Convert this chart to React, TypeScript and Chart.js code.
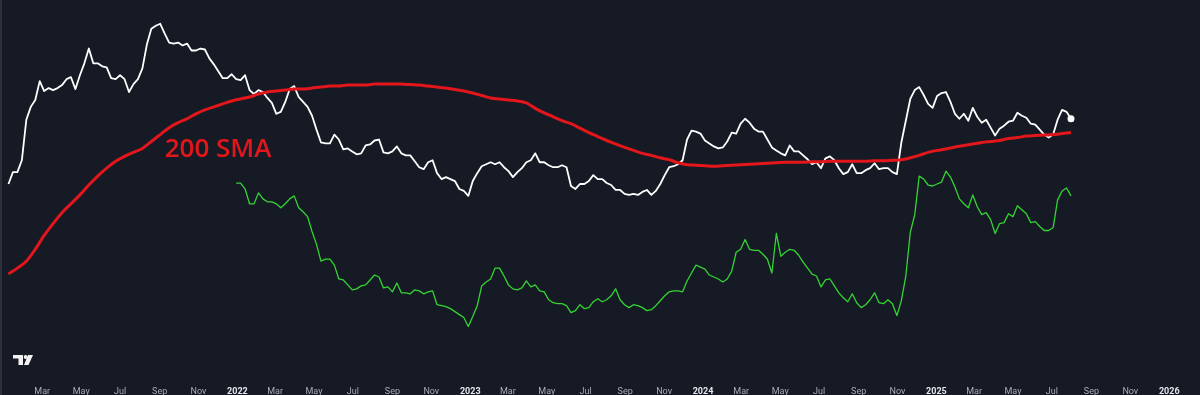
import React, { useEffect, useRef } from "react";
import { Chart, registerables } from "chart.js";

Chart.register(...registerables);

// ---- Data (values are in chart units) ----
const PRICE_START = "2021-01-07"; // weekly closes
const PRICE_STEP_DAYS = 7;
const priceValues = [
  218, 230, 230, 242, 283, 296, 303, 322, 312, 315,
  313, 315, 318, 324, 326, 314, 328, 340, 355, 340,
  340, 337, 336, 325, 324, 328, 324, 311, 319, 324,
  335, 359, 375, 378, 380, 370, 361, 360, 361, 358,
  360, 353, 353, 355, 354, 345, 339, 332, 325, 325,
  329, 324, 323, 328, 313, 309, 313, 311, 305, 300,
  289, 291, 301, 314, 317, 306, 301, 296, 287, 273,
  260, 259, 259, 268, 263, 253, 254, 251, 248, 249,
  257, 258, 262, 263, 250, 249, 251, 256, 249, 247,
  247, 241, 235, 233, 240, 242, 229, 223, 225, 223,
  221, 213, 211, 206, 221, 229, 236, 238, 240, 238,
  240, 235, 231, 225, 230, 234, 240, 242, 249, 240,
  240, 237, 235, 235, 237, 235, 216, 213, 218, 218,
  221, 227, 223, 223, 219, 217, 212, 212, 208, 207,
  208, 207, 210, 212, 207, 211, 218, 227, 235, 236,
  238, 242, 263, 272, 271, 269, 262, 259, 256, 254,
  255, 261, 270, 269, 279, 284, 280, 274, 271, 271,
  263, 255, 252, 249, 247, 257, 251, 251, 247, 243,
  238, 240, 234, 244, 246, 242, 234, 228, 230, 238,
  229, 229, 232, 234, 239, 233, 234, 234, 230, 228,
  260, 282, 304, 313, 316, 308, 299, 295, 307, 310,
  311, 301, 289, 284, 289, 282, 295, 286, 280, 283,
  275, 267, 274, 277, 281, 282, 290, 287, 285, 279,
  278, 273, 268, 265, 268, 283, 293, 291, 284,
];

const COMPARE_START = "2021-12-30"; // weekly
const COMPARE_STEP_DAYS = 7;
const compareValues = [
  219, 219, 213, 198, 198, 209, 203, 200, 200, 198,
  194, 198, 203, 206, 194, 190, 185, 170, 157, 140,
  142, 142, 136, 122, 121, 116, 111, 112, 115, 116,
  121, 126, 124, 113, 114, 109, 118, 108, 108, 107,
  111, 110, 107, 109, 110, 96, 95, 94, 92, 89,
  86, 83, 74, 84, 95, 115, 119, 122, 133, 133,
  125, 116, 112, 111, 113, 120, 114, 116, 110, 109,
  101, 98, 97, 97, 95, 88, 90, 96, 92, 93,
  99, 102, 99, 101, 105, 112, 101, 96, 93, 96,
  95, 93, 90, 91, 95, 100, 105, 109, 110, 110,
  109, 120, 128, 136, 134, 132, 126, 124, 122, 119,
  122, 130, 149, 152, 162, 152, 151, 151, 147, 142,
  128, 168, 145, 149, 152, 151, 146, 139, 133, 127,
  125, 114, 121, 122, 115, 108, 103, 99, 107, 98,
  93, 96, 101, 108, 98, 97, 101, 97, 85, 100,
  125, 169, 187, 226, 223, 217, 216, 218, 220, 231,
  225, 215, 203, 198, 194, 207, 195, 187, 189, 182,
  168, 178, 179, 188, 185, 196, 192, 188, 179, 180,
  175, 171, 171, 174, 202, 211, 214, 206,
];

const SMA_START = "2021-01-07"; // sampled every two weeks
const SMA_STEP_DAYS = 14;
const smaValues = [
  127, 133, 140, 152, 166, 178, 189, 198, 207, 217,
  226, 234, 241, 246, 250, 254, 261, 268, 275, 280,
  284, 289, 293, 296, 299, 302, 304, 306, 309, 311,
  312, 313, 314, 314, 315, 316, 317, 317, 318, 318,
  318, 319, 319, 319, 319, 318.5, 318, 317, 316, 315,
  313.5, 312, 310, 307.5, 305, 304, 303, 302, 300, 294.5,
  290, 286, 282, 279, 274.5, 270, 266, 262, 258.5, 255,
  252, 249, 247, 244.5, 242.5, 239.5, 237.5, 237, 236.5, 236,
  236.5, 237, 237.5, 238, 238.5, 239, 239.5, 240, 240, 240,
  240.5, 240.5, 241, 241, 241, 241, 241, 241.5, 241.5, 242,
  242.5, 244.5, 247, 250, 252, 253.5, 255.5, 257, 258.5, 260,
  261, 262, 264, 265, 266.5, 267, 267.5, 268, 269, 270,
];

const SMA_LABEL = "200 SMA";
const SMA_LABEL_DATE = "2021-09-09";
const SMA_LABEL_VALUE = 245;

const tickDates = [
  "2021-03-01", "2021-05-01", "2021-07-01", "2021-09-01", "2021-11-01",
  "2022-01-01", "2022-03-01", "2022-05-01", "2022-07-01", "2022-09-01", "2022-11-01",
  "2023-01-01", "2023-03-01", "2023-05-01", "2023-07-01", "2023-09-01", "2023-11-01",
  "2024-01-01", "2024-03-01", "2024-05-01", "2024-07-01", "2024-09-01", "2024-11-01",
  "2025-01-01", "2025-03-01", "2025-05-01", "2025-07-01", "2025-09-01", "2025-11-01",
  "2026-01-01",
];
const tickLabels = [
  "Mar", "May", "Jul", "Sep", "Nov",
  "2022", "Mar", "May", "Jul", "Sep", "Nov",
  "2023", "Mar", "May", "Jul", "Sep", "Nov",
  "2024", "Mar", "May", "Jul", "Sep", "Nov",
  "2025", "Mar", "May", "Jul", "Sep", "Nov",
  "2026",
];

const X_MIN_DATE = "2020-12-31";
const X_MAX_DATE = "2026-02-12";
const Y_MIN = 32;
const Y_MAX = 400;

// ---- helpers ----
const EPOCH = Date.parse("2021-01-01T00:00:00Z");
const dayOf = (s: string) => (Date.parse(s + "T00:00:00Z") - EPOCH) / 86400000;
const series = (start: string, step: number, vals: number[]) =>
  vals.map((v, i) => ({ x: dayOf(start) + step * i, y: v }));

const BG = "#161a25";

const overlayPlugin = {
  id: "overlay",
  beforeDraw(chart: any) {
    const { ctx, width, height } = chart;
    ctx.save();
    ctx.fillStyle = BG;
    ctx.fillRect(0, 0, width, height);
    ctx.restore();
  },
  afterDraw(chart: any) {
    const { ctx, scales } = chart;
    const x = scales.x;
    const y = scales.y;
    ctx.save();
    // SMA annotation
    ctx.font = "600 26px 'Open Sans'";
    ctx.fillStyle = "#e3161c";
    ctx.textBaseline = "alphabetic";
    ctx.textAlign = "left";
    ctx.fillText(SMA_LABEL, x.getPixelForValue(dayOf(SMA_LABEL_DATE)), y.getPixelForValue(SMA_LABEL_VALUE));
    // left frame edge
    ctx.fillStyle = "#2c303b";
    ctx.fillRect(0, 0, 2, chart.height);
    // TradingView-like logo
    ctx.fillStyle = "#f2f2f2";
    ctx.fillRect(13, 355, 10, 3.5);
    ctx.fillRect(18.5, 355, 4.5, 10);
    ctx.beginPath();
    ctx.arc(25.6, 357, 1.9, 0, Math.PI * 2);
    ctx.fill();
    ctx.beginPath();
    ctx.moveTo(28, 355);
    ctx.lineTo(33, 355);
    ctx.lineTo(28.5, 365);
    ctx.lineTo(24, 365);
    ctx.closePath();
    ctx.fill();
    ctx.restore();
  },
};

export default function App() {
  const canvasRef = useRef<HTMLCanvasElement | null>(null);

  useEffect(() => {
    document.body.style.margin = "0";
    document.body.style.background = BG;
    const canvas = canvasRef.current;
    if (!canvas) return;
    const lastPrice = priceValues.length - 1;
    const chart = new Chart(canvas, {
      type: "line",
      data: {
        datasets: [
          {
            label: SMA_LABEL,
            data: series(SMA_START, SMA_STEP_DAYS, smaValues),
            borderColor: "#e3161c",
            borderWidth: 3,
            pointRadius: 0,
            tension: 0.4,
            cubicInterpolationMode: "monotone",
          },
          {
            label: "Price",
            data: series(PRICE_START, PRICE_STEP_DAYS, priceValues),
            borderColor: "#ffffff",
            borderWidth: 1.8,
            borderJoinStyle: "round",
            pointRadius: (c: any) => (c.dataIndex === lastPrice ? 3.5 : 0),
            pointBackgroundColor: "#ffffff",
            pointBorderWidth: 0,
            tension: 0,
          },
          {
            label: "Compare",
            data: series(COMPARE_START, COMPARE_STEP_DAYS, compareValues),
            borderColor: "#33d433",
            borderWidth: 1.3,
            borderJoinStyle: "round",
            pointRadius: 0,
            tension: 0,
          },
        ],
      },
      options: {
        animation: false,
        responsive: false,
        devicePixelRatio: 1,
        events: [],
        layout: { padding: 0 },
        plugins: {
          legend: { display: false },
          tooltip: { enabled: false },
        },
        scales: {
          x: {
            type: "linear",
            bounds: "data",
            min: dayOf(X_MIN_DATE),
            max: dayOf(X_MAX_DATE),
            grid: { display: false },
            border: { display: false },
            afterBuildTicks: (s: any) => {
              s.ticks = tickDates.map((d) => ({ value: dayOf(d) }));
            },
            afterFit: (s: any) => {
              s.height = 27;
            },
            ticks: {
              autoSkip: false,
              maxRotation: 0,
              minRotation: 0,
              padding: 10,
              callback: (_v: any, i: number) => tickLabels[i],
              color: (c: any) => (/^\d{4}$/.test(tickLabels[c.index] || "") ? "#e6e8ee" : "#a9adb8"),
              font: (c: any) => ({
                family: "Roboto",
                size: 9,
                weight: /^\d{4}$/.test(tickLabels[c.index] || "") ? "bold" : "normal",
              }),
            },
          },
          y: {
            display: false,
            min: Y_MIN,
            max: Y_MAX,
          },
        },
      },
      plugins: [overlayPlugin],
    } as any);
    return () => chart.destroy();
  }, []);

  return (
    <div style={{ width: 1200, height: 395, background: BG }}>
      <canvas ref={canvasRef} width={1200} height={395} style={{ display: "block" }} />
    </div>
  );
}
